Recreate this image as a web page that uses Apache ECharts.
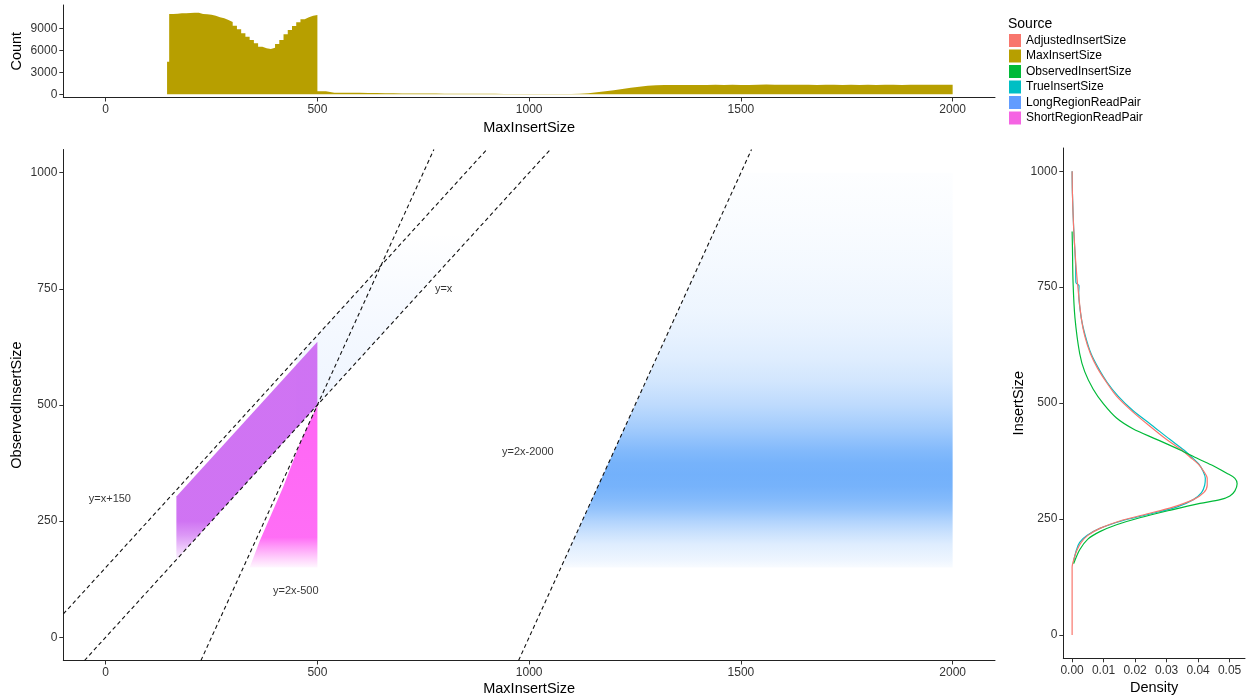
<!DOCTYPE html>
<html>
<head>
<meta charset="utf-8">
<script src="https://cdn.jsdelivr.net/npm/echarts@6/dist/echarts.min.js"></script>
<style>
html,body{margin:0;padding:0;background:#fff;}
#chart{width:1247px;height:698px;}
</style>
</head>
<body>
<div id="chart"></div>
<script>
// ================= DATA =================
const legendNames = ['AdjustedInsertSize','MaxInsertSize','ObservedInsertSize','TrueInsertSize','LongRegionReadPair','ShortRegionReadPair'];
const legendColors = ['#F8766D','#B79F00','#00BA38','#00BFC4','#619CFF','#F564E3'];

// Top panel: histogram of MaxInsertSize (bin edges and counts)
const histEdges = [145];
for (let x = 150; x <= 500; x += 10) histEdges.push(x);
for (let x = 520; x <= 2000; x += 20) histEdges.push(x);
const histCounts = [
  4450,
  10950,11000,11040,11040,11090,11130,11130,10950,10910,10860,
  10720,10500,10360,10130,9860,9360,8860,8320,7860,7410,
  6950,6500,6270,6180,6360,6860,7410,8180,8770,9320,
  9820,10230,10500,10720,10810,
  400,220,210,200,200,190,180,140,130,120,
  110,100,95,90,85,80,75,70,65,60,
  55,50,50,45,40,40,35,35,40,50,
  80,150,280,420,560,720,880,1020,1150,1230,
  1260,
  1270,1280,1260,1275,1270,1285,1265,1290,1270,1275,
  1300,1320,1310,1290,1300,1285,1290,1280,1295,1285,
  1280,1290,1275,1285,1280,1290,1285,1280,1295,1290,
  1300,1285,1310,1290
];
const histTicks = [0, 3000, 6000, 9000];
const maxTicks = [0, 500, 1000, 1500, 2000];

// Main panel: point clouds (outline in MaxInsertSize / ObservedInsertSize, density profile along y)
const longCloudX = [1075, 2000, 2000, 1500];
const longCloudY = [150, 150, 1000, 1000];
const longCloudStopY = [150,165,200,225,250,275,300,325,350,375,400,425,450,500,550,600,650,700,800,900,1000];
const longCloudAlpha = [0.04,0.1,0.2,0.33,0.48,0.65,0.77,0.84,0.86,0.84,0.77,0.67,0.57,0.4,0.28,0.2,0.15,0.11,0.065,0.035,0.012];
const longBandX = [450, 870, 720, 450];
const longBandY = [450, 870, 870, 600];
const longBandStopY = [450, 550, 650, 750, 870];
const longBandAlpha = [0.1, 0.09, 0.07, 0.045, 0];

const shortParaX = [167, 500, 500, 167];
const shortParaY = [167, 500, 636, 303];
const shortParaStopY = [167, 190, 220, 250, 636];
const shortParaAlpha = [0.08, 0.35, 0.7, 0.95, 0.95];
const shortTriX = [340, 500, 500, 458, 419, 364];
const shortTriY = [150, 150, 500, 416, 323, 208];
const shortTriStopY = [150, 170, 195, 215, 500];
const shortTriAlpha = [0.05, 0.3, 0.65, 0.95, 1];

// Reference lines y = m*x + b
const refSlopes = [1, 1, 2, 2];
const refIntercepts = [150, 0, -500, -2000];
const refLabels = ['y=x+150', 'y=x', 'y=2x-500', 'y=2x-2000'];
const refLabelX = [10, 798, 449, 997];
const refLabelY = [298, 750, 99, 399];
const obsTicks = [0, 250, 500, 750, 1000];

// Right panel: densities (density, insert size)
const adjDensity = [0,0,0.0008,0.0016,0.0029,0.0050,0.0088,0.0151,0.0236,0.0320,0.0385,0.0418,0.0429,0.0429,0.0418,0.0400,0.0374,0.0348,0.0299,0.0242,0.0188,0.0141,0.0109,0.0080,0.0058,0.0040,0.0029,0.0019,0.0012,0.0005,0.0001,0];
const adjInsert  = [0,146,169,184,200,215,230,246,261,276,292,307,323,338,353,369,384,399,422,453,484,515,545,576,607,645,684,745,799,876,952,1000];
const trueDensity = [0.0005,0.0014,0.0024,0.0048,0.0088,0.0157,0.0247,0.0332,0.0385,0.0411,0.0421,0.0423,0.0416,0.0402,0.0379,0.0355,0.0310,0.0252,0.0193,0.0146,0.0111,0.0083,0.0060,0.0042,0.0029,0.0021,0.0022,0.0012,0.0011,0.0005,0.0001,0];
const trueInsert  = [161,184,200,215,230,246,261,276,292,307,323,338,353,369,384,399,422,453,484,515,545,576,607,645,684,737,753,760,799,876,952,1000];
const obsDensity = [0.0005,0.0024,0.0050,0.0088,0.0141,0.0215,0.0310,0.0406,0.0470,0.0501,0.0517,0.0524,0.0517,0.0491,0.0448,0.0400,0.0343,0.0268,0.0193,0.0141,0.0099,0.0067,0.0040,0.0024,0.0009,0.0003,0.0001,0];
const obsInsert  = [154,184,207,223,238,253,269,284,292,300,311,326,338,349,365,380,399,422,445,468,499,530,568,607,684,760,837,870];
const densTicks = [0, 0.01, 0.02, 0.03, 0.04, 0.05];

// ================= CHART =================
const FONT = '"Liberation Sans", Arial, Helvetica, sans-serif';
const chart = echarts.init(document.getElementById('chart'), null, {renderer: 'canvas'});

const histPoints = histCounts.map((c, i) => [histEdges[i], c]);
histPoints.push([histEdges[histEdges.length - 1], histCounts[histCounts.length - 1]]);

const longDefs = [
  {x: longCloudX, y: longCloudY, stopY: longCloudStopY, alpha: longCloudAlpha, rgb: '92,164,250'},
  {x: longBandX, y: longBandY, stopY: longBandStopY, alpha: longBandAlpha, rgb: '97,156,255'}
];
const shortDefs = [
  {x: shortParaX, y: shortParaY, stopY: shortParaStopY, alpha: shortParaAlpha, rgb: '205,108,242'},
  {x: shortTriX, y: shortTriY, stopY: shortTriStopY, alpha: shortTriAlpha, rgb: '255,102,245'}
];

function polyRender(defs) {
  return function (params, api) {
    const d = defs[params.dataIndex];
    const pts = d.x.map((x, i) => api.coord([x, d.y[i]]));
    const yBot = api.coord([1000, d.stopY[0]])[1];
    const yTop = api.coord([1000, d.stopY[d.stopY.length - 1]])[1];
    const stops = d.stopY.map((v, i) => ({
      offset: Math.min(1, Math.max(0, (api.coord([1000, v])[1] - yBot) / (yTop - yBot))),
      color: 'rgba(' + d.rgb + ',' + d.alpha[i] + ')'
    }));
    return {
      type: 'polygon',
      shape: {points: pts},
      style: {fill: new echarts.graphic.LinearGradient(0, yBot, 0, yTop, stops, true)},
      silent: true
    };
  };
}

const axisLineStyle = {show: true, onZero: false, lineStyle: {color: '#222', width: 1}};
const tickStyle = (vals) => ({show: true, length: 4, customValues: vals, lineStyle: {color: '#333', width: 1}});
const labelStyle = (vals, fmt) => ({
  show: true, customValues: vals, color: '#333', fontSize: 12, fontFamily: FONT, margin: 6,
  formatter: fmt || (v => String(v))
});
const nameStyle = {color: '#000', fontSize: 14.5, fontFamily: FONT};

const refSeries = refSlopes.map((m, i) => ({
  type: 'line',
  name: refLabels[i],
  xAxisIndex: 1, yAxisIndex: 1,
  data: [[(-50 - refIntercepts[i]) / m, -50], [(1050 - refIntercepts[i]) / m, 1050]],
  symbol: 'none', silent: true, clip: true, z: 5,
  lineStyle: {color: '#111', width: 1.1, type: [4, 3]}
}));

const densLine = (name, color, dens, ins, z) => ({
  type: 'line', name: name, xAxisIndex: 2, yAxisIndex: 2,
  data: dens.map((d, i) => [d, ins[i]]),
  symbol: 'none', showSymbol: false, smooth: 0.3, silent: true, z: z,
  itemStyle: {color: color}, lineStyle: {color: color, width: 1.2}
});

const option = {
  animation: false,
  backgroundColor: '#fff',
  textStyle: {fontFamily: FONT},
  grid: [
    {left: 63.3, top: 5, width: 931.7, height: 92.5, containLabel: false, outerBoundsMode: 'none'},
    {left: 63.3, top: 149.5, width: 931.7, height: 511, containLabel: false, outerBoundsMode: 'none'},
    {left: 1063.3, top: 148, width: 181.7, height: 510.3, containLabel: false, outerBoundsMode: 'none'}
  ],
  xAxis: [
    {gridIndex: 0, type: 'value', min: -100, max: 2100, splitLine: {show: false},
     axisLine: axisLineStyle, axisTick: tickStyle(maxTicks), axisLabel: labelStyle(maxTicks),
     name: 'MaxInsertSize', nameLocation: 'middle', nameGap: 23, nameMoveOverlap: false, nameTextStyle: nameStyle},
    {gridIndex: 1, type: 'value', min: -100, max: 2100, splitLine: {show: false},
     axisLine: axisLineStyle, axisTick: tickStyle(maxTicks), axisLabel: labelStyle(maxTicks),
     name: 'MaxInsertSize', nameLocation: 'middle', nameGap: 21, nameMoveOverlap: false, nameTextStyle: nameStyle},
    {gridIndex: 2, type: 'value', min: -0.0028, max: 0.0549, splitLine: {show: false},
     axisLine: axisLineStyle, axisTick: tickStyle(densTicks),
     axisLabel: labelStyle(densTicks, v => Number(v).toFixed(2)),
     name: 'Density', nameLocation: 'middle', nameGap: 22, nameMoveOverlap: false, nameTextStyle: nameStyle}
  ],
  yAxis: [
    {gridIndex: 0, type: 'value', min: -440, max: 12180, splitLine: {show: false},
     axisLine: axisLineStyle, axisTick: tickStyle(histTicks), axisLabel: labelStyle(histTicks),
     name: 'Count', nameLocation: 'middle', nameGap: 38.5, nameMoveOverlap: false, nameTextStyle: nameStyle},
    {gridIndex: 1, type: 'value', min: -50, max: 1050, splitLine: {show: false},
     axisLine: axisLineStyle, axisTick: tickStyle(obsTicks), axisLabel: labelStyle(obsTicks),
     name: 'ObservedInsertSize', nameLocation: 'middle', nameGap: 38.5, nameMoveOverlap: false, nameTextStyle: nameStyle},
    {gridIndex: 2, type: 'value', min: -50, max: 1050, splitLine: {show: false},
     axisLine: axisLineStyle, axisTick: tickStyle(obsTicks), axisLabel: labelStyle(obsTicks),
     name: 'InsertSize', nameLocation: 'middle', nameGap: 37, nameMoveOverlap: false, nameTextStyle: nameStyle}
  ],
  legend: {
    show: true, orient: 'vertical', left: 1009, top: 34, padding: 0,
    itemWidth: 12, itemHeight: 13, itemGap: 2.5, icon: 'rect', selectedMode: false,
    itemStyle: {borderWidth: 0},
    textStyle: {fontSize: 12, color: '#000', fontFamily: FONT},
    data: legendNames
  },
  graphic: [
    {type: 'text', left: 1008, top: 17, style: {text: 'Source', fontSize: 14, fill: '#000', fontFamily: FONT}}
  ],
  series: [
    {
      type: 'line', name: 'MaxInsertSize', xAxisIndex: 0, yAxisIndex: 0,
      data: histPoints, step: 'end', symbol: 'none', showSymbol: false, silent: true,
      itemStyle: {color: legendColors[1]},
      lineStyle: {width: 0, color: legendColors[1]},
      areaStyle: {color: legendColors[1], opacity: 1}
    },
    {
      type: 'custom', name: 'LongRegionReadPair', xAxisIndex: 1, yAxisIndex: 1,
      data: longDefs.map(d => [d.x[0], d.y[0]]), encode: {x: 0, y: 1},
      itemStyle: {color: legendColors[4]}, renderItem: polyRender(longDefs), silent: true, clip: true, z: 2
    },
    {
      type: 'custom', name: 'ShortRegionReadPair', xAxisIndex: 1, yAxisIndex: 1,
      data: shortDefs.map(d => [d.x[0], d.y[0]]), encode: {x: 0, y: 1},
      itemStyle: {color: legendColors[5]}, renderItem: polyRender(shortDefs), silent: true, clip: true, z: 3
    },
    ...refSeries,
    {
      type: 'scatter', name: 'refLabels', xAxisIndex: 1, yAxisIndex: 1, z: 6, silent: true,
      symbolSize: 1, itemStyle: {color: 'rgba(0,0,0,0)'},
      data: refLabels.map((t, i) => ({name: t, value: [refLabelX[i], refLabelY[i]]})),
      label: {show: true, position: 'inside', formatter: p => p.name, color: '#000', fontSize: 11, fontFamily: FONT}
    },
    densLine('TrueInsertSize', legendColors[3], trueDensity, trueInsert, 3),
    densLine('AdjustedInsertSize', legendColors[0], adjDensity, adjInsert, 4),
    densLine('ObservedInsertSize', legendColors[2], obsDensity, obsInsert, 5)
  ]
};
chart.setOption(option);
</script>
</body>
</html>
